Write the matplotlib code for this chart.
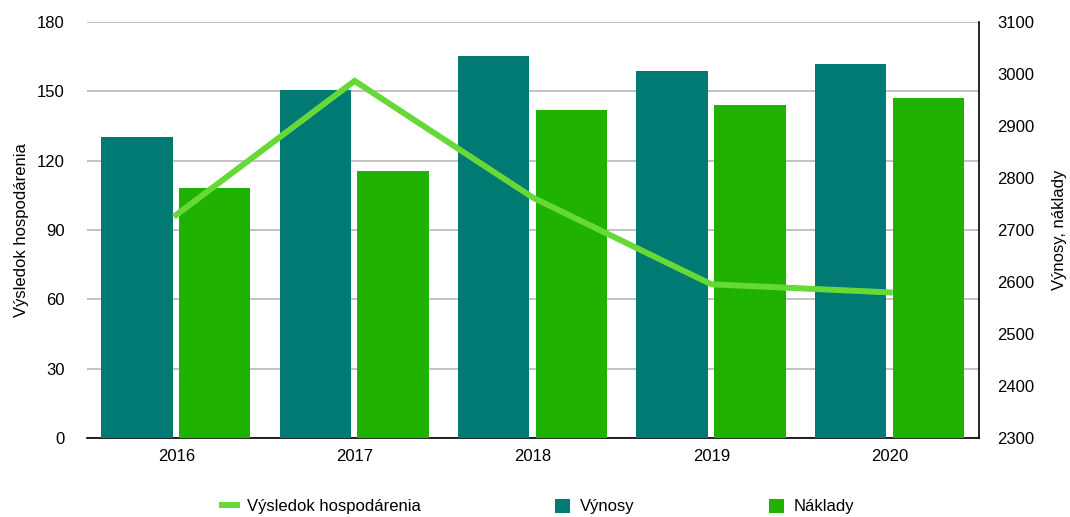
import numpy as np
import matplotlib
matplotlib.use("Agg")
import matplotlib.pyplot as plt

plt.rcParams['font.family'] = ['Liberation Sans', 'DejaVu Sans']
plt.rcParams['font.size'] = 12

years = ["2016", "2017", "2018", "2019", "2020"]
vynosy = [2879, 2969, 3035, 3006, 3019]
naklady = [2781, 2813, 2931, 2940, 2954]
vysledok = [96.5, 154.5, 104, 66.5, 63]

c_vyn = "#007A73"
c_nak = "#1FB200"
c_line = "#66D936"

fig = plt.figure(figsize=(10.7, 5.17), dpi=100)
ax = fig.add_axes([87/1070, 79/517, 892/1070, 416/517])

x = np.arange(len(years))
w = 0.40

# left axis: grid + ticks
ax.set_xlim(-0.5, len(years) - 0.5)
ax.set_ylim(0, 180)
ax.set_yticks(np.arange(0, 181, 30))
ax.grid(axis="y", color="#bdbdbd", linewidth=1.3)
ax.set_axisbelow(True)
ax.set_xticks(x)
ax.set_xticklabels(years)
ax.tick_params(length=0, pad=8)
ax.tick_params(axis="y", pad=16)
for s in ["top", "left", "right"]:
    ax.spines[s].set_visible(False)
ax.spines["bottom"].set_linewidth(1.2)
ax.set_ylabel("Výsledok hospodárenia", labelpad=6)

# right axis: bars
ax2 = ax.twinx()
ax2.bar(x - 0.22, vynosy, w, color=c_vyn, label="Výnosy")
ax2.bar(x + 0.216, naklady, w, color=c_nak, label="Náklady")
ax2.set_ylim(2300, 3100)
ax2.set_yticks(np.arange(2300, 3101, 100))
ax2.tick_params(length=0, pad=13)
for s in ["top", "left", "bottom"]:
    ax2.spines[s].set_visible(False)
ax2.spines["right"].set_linewidth(1.2)
ax2.set_ylabel("Výnosy, náklady", labelpad=13)

# line on top, left scale
ax3 = ax.twinx()
ax3.set_ylim(0, 180)
ax3.axis("off")
ax3.plot(x, vysledok, color=c_line, linewidth=4.3, solid_joinstyle="miter",
         label="Výsledok hospodárenia")

h1, l1 = ax3.get_legend_handles_labels()
h2, l2 = ax2.get_legend_handles_labels()
fig.legend(h1 + h2, l1 + l2, loc="center", bbox_to_anchor=(0.503, 0.02),
           ncol=3, frameon=False, handlelength=0.9, handleheight=0.9,
           columnspacing=8.1, handletextpad=0.55)

fig.savefig("out.png", dpi=100)
